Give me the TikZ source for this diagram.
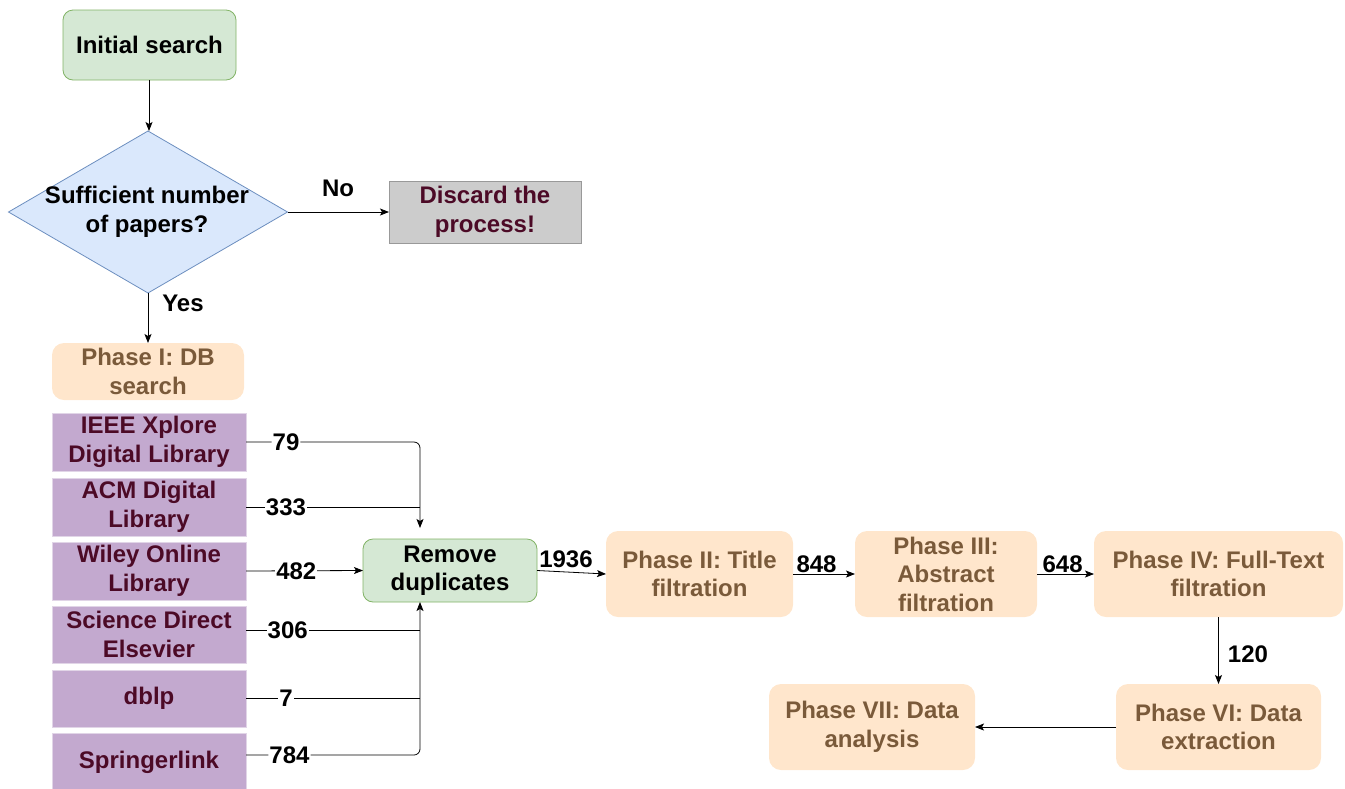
\documentclass[tikz,border=0pt]{standalone}
\usepackage{fontspec}
\setmainfont{Liberation Sans}
\usetikzlibrary{shapes.geometric,arrows.meta}
\definecolor{gfill}{HTML}{D5E8D4}
\definecolor{gline}{HTML}{82B366}
\definecolor{bfill}{HTML}{DAE8FC}
\definecolor{bline}{HTML}{6C8EBF}
\definecolor{grayfill}{HTML}{CCCCCC}
\definecolor{grayline}{HTML}{999999}
\definecolor{maroon}{HTML}{4C0A26}
\definecolor{ofill}{HTML}{FFE6CC}
\definecolor{brown}{HTML}{7A5A3A}
\definecolor{pfill}{HTML}{C3A9CF}
\definecolor{pline}{HTML}{E1D5E7}
\tikzset{
  base/.style={align=center, font=\fontsize{24}{28.5}\selectfont\bfseries, inner sep=0pt, outer sep=0pt},
  greenbox/.style={base, rounded corners=10pt, fill=gfill, draw=gline, line width=0.8pt, text=black},
  decbox/.style={shape=diamond, fill=bfill, draw=bline, line width=0.8pt, inner sep=0pt, outer sep=0pt},
  graybox/.style={base, fill=grayfill, draw=grayline, line width=0.8pt, text=maroon},
  phasebox/.style={base, rounded corners=12pt, fill=ofill, draw=none, text=brown},
  dbbox/.style={base, fill=pfill, draw=pline, line width=0.8pt, text=maroon},
  conn/.style={draw=black, line width=0.8pt},
  arr/.style={conn, -{Stealth[length=9pt,width=7pt,inset=2pt]}},
  lbl/.style={font=\fontsize{24}{28.5}\selectfont\bfseries, fill=white, inner sep=1pt, text=black},
  lbla/.style={font=\fontsize{24}{28.5}\selectfont\bfseries, inner sep=1pt, text=black},
}
\begin{document}
\begin{tikzpicture}[x=1pt,y=-1pt]
\useasboundingbox (0,0) rectangle (1345,788);
% nodes
\node[greenbox, minimum width=173pt, minimum height=70pt] (init) at (149.5,45) {Initial search};
\node[decbox, minimum width=279pt, minimum height=162pt] (dec) at (148,212) {};
\node[base, text=black] (dectxt) at (147,212) {Sufficient number\\of papers?};
\node[graybox, minimum width=192pt, minimum height=62pt] (disc) at (485,212) {Discard the\\process!};
\node[phasebox, minimum width=192pt, minimum height=57pt] (p1) at (148,371.5) {Phase I: DB\\search};
\node[dbbox, minimum width=194pt, minimum height=58pt] (ieee) at (149,442) {IEEE Xplore\\Digital Library};
\node[dbbox, minimum width=194pt, minimum height=58pt] (acm) at (149,507) {ACM Digital\\Library};
\node[dbbox, minimum width=194pt, minimum height=58pt] (wiley) at (149,571) {Wiley Online\\Library};
\node[dbbox, minimum width=194pt, minimum height=57pt] (sd) at (149,634.5) {Science Direct\\Elsevier};
\node[dbbox, minimum width=194pt, minimum height=57pt] (dblp) at (149,698.5) {dblp};
\node[dbbox, minimum width=194pt, minimum height=58pt] (spr) at (149,762) {Springerlink};
\node[greenbox, minimum width=174pt, minimum height=63pt] (rd) at (450,570.5) {Remove\\duplicates};
\node[phasebox, minimum width=187pt, minimum height=86pt] (p2) at (699.5,574) {Phase II: Title\\filtration};
\node[phasebox, minimum width=182pt, minimum height=86pt] (p3) at (946,574) {Phase III:\\Abstract\\filtration};
\node[phasebox, minimum width=249pt, minimum height=86pt] (p4) at (1218.5,574) {Phase IV: Full-Text\\filtration};
\node[phasebox, minimum width=205pt, minimum height=86pt] (p6) at (1218.5,727) {Phase VI: Data\\extraction};
\node[phasebox, minimum width=206pt, minimum height=86pt] (p7) at (872,727) {Phase VII: Data\\analysis};
% bus coordinate
\coordinate (bus) at (420,446);
% connectors
\draw[arr] (init.south -| 149,0) -- (dec.north -| 149,0);
\draw[arr] (dec.east) -- (disc.west);
\node[lbla] (nolbl) at (338,188) {No};
\draw[arr] (dec.south) -- (p1.north);
\node[lbla] (yeslbl) at (183,303) {Yes};
\draw[arr, rounded corners=6pt, shorten >=11pt] (ieee.east) -- (bus |- ieee.east) node[lbl, pos=0.23] {79} -- (bus |- rd.north);
\draw[conn] (acm.east) -- (bus |- acm.east) node[lbl, pos=0.23] {333};
\draw[arr] (wiley.east) -- (rd.west) node[lbl, pos=0.43] {482};
\draw[conn] (sd.east |- 0,630) -- (bus |- 0,630) node[lbl, pos=0.24] {306};
\draw[conn] (dblp.east) -- (bus |- dblp.east) node[lbl, pos=0.23] {7};
\draw[arr, rounded corners=6pt] (spr.east |- 0,755) -- (bus |- 0,755) node[lbl, pos=0.25] {784} -- (bus |- rd.south);
\draw[arr] (rd.east) -- (p2.west) node[lbla, above=3pt, pos=0.42] {1936};
\draw[arr] (p2.east) -- (p3.west) node[lbla, above, pos=0.38] {848};
\draw[arr] (p3.east) -- (p4.west) node[lbla, above, pos=0.45] {648};
\draw[arr] (p4.south) -- (p6.north) node[lbla, right=8pt, pos=0.55] {120};
\draw[arr] (p6.west) -- (p7.east);
\end{tikzpicture}
\end{document}
